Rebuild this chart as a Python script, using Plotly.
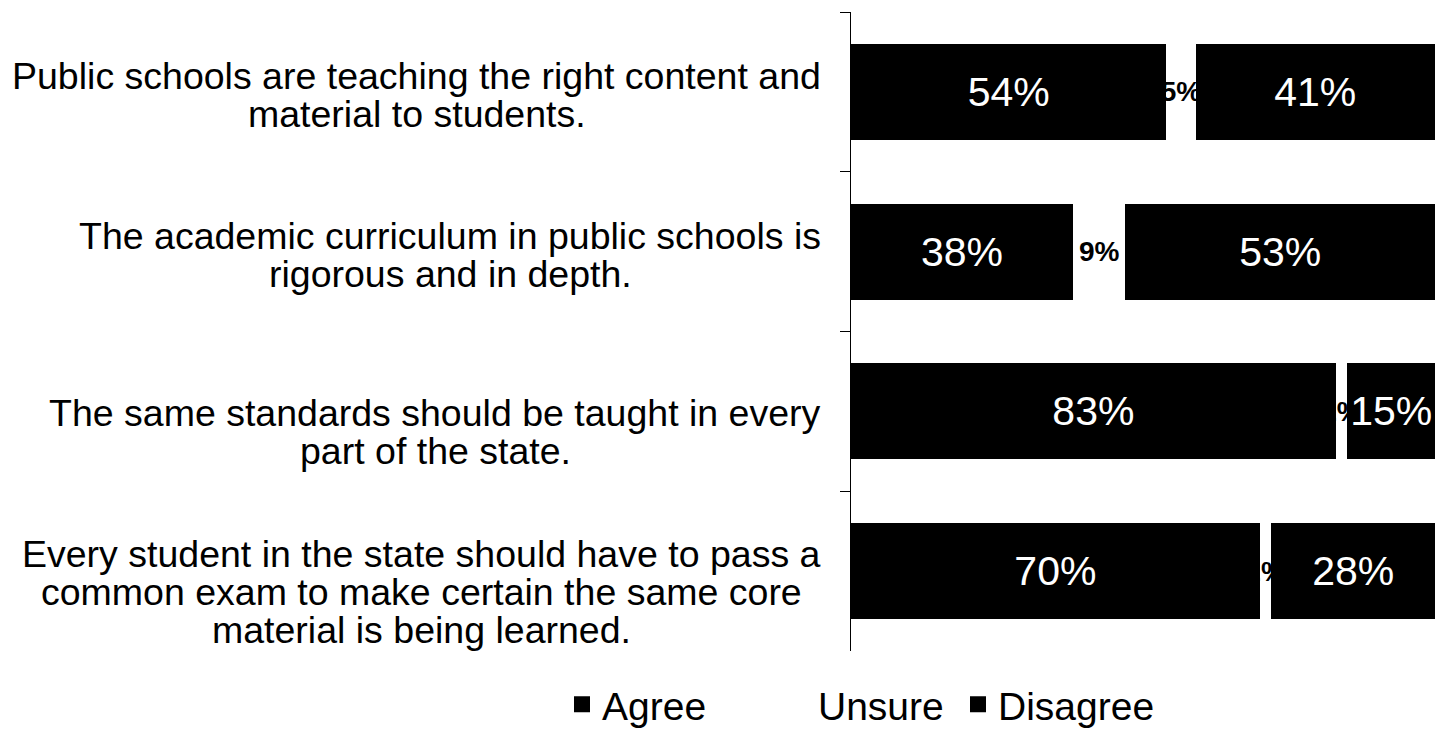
import plotly.graph_objects as go

# Survey statements (line breaks as set in the chart) and response shares (%)
statements = [
    "Public schools are teaching the right content and\nmaterial to students.",
    "The academic curriculum in public schools is\nrigorous and in depth.",
    "The same standards should be taught in every\npart of the state.",
    "Every student in the state should have to pass a\ncommon exam to make certain the same core\nmaterial is being learned.",
]
agree = [54, 38, 83, 70]
unsure = [5, 9, 2, 2]
disagree = [41, 53, 15, 28]
series_names = ["Agree", "Unsure", "Disagree"]

FONT = "Liberation Sans, Arial, Helvetica, sans-serif"
LABEL_SIZE = 37.5        # statement text size (px)
LABEL_LINE = 38          # statement line pitch (px)
LABEL_GAP = 30           # distance from the axis to the right edge of a label block (px)
LABEL_DROP = [3, 3, 21, 21]  # downward nudge of each label block (px)

# Arial / Liberation Sans advance widths (per 1000 em) used to centre label lines
ADV = {
    " ": 278, ".": 278, "a": 556, "b": 556, "c": 500, "d": 556, "e": 556, "f": 278,
    "g": 556, "h": 556, "i": 222, "j": 222, "k": 500, "l": 222, "m": 833, "n": 556,
    "o": 556, "p": 556, "q": 556, "r": 333, "s": 500, "t": 278, "u": 556, "v": 500,
    "w": 722, "x": 500, "y": 500, "z": 500, "P": 667, "T": 611, "E": 667,
}


def text_width(s, size):
    return sum(ADV.get(ch, 556) for ch in s) * size / 1000.0


cats = statements
fig = go.Figure()

# Agree segment
fig.add_trace(go.Bar(
    y=cats, x=agree, orientation="h", name=series_names[0],
    marker=dict(color="black", line=dict(width=0)),
    text=[f"{v}%" for v in agree], textposition="inside", insidetextanchor="middle",
    constraintext="none", textangle=0,
    textfont=dict(color="white", size=41, family=FONT),
    showlegend=False, hoverinfo="skip",
))
# Unsure segment (white); its bold black value sits in the gap and is hidden by the
# neighbouring black bars wherever it spills over
fig.add_trace(go.Bar(
    y=cats, x=unsure, orientation="h", name=series_names[1],
    marker=dict(color="white", line=dict(width=0)),
    text=[f"{v}%" for v in unsure], textposition="inside", insidetextanchor="middle",
    constraintext="none", textangle=0,
    textfont=dict(color="black", size=28, family=FONT, weight="bold"),
    showlegend=False, hoverinfo="skip",
))
# Disagree segment
fig.add_trace(go.Bar(
    y=cats, x=disagree, orientation="h", name=series_names[2],
    marker=dict(color="black", line=dict(width=0)),
    text=[f"{v}%" for v in disagree], textposition="inside", insidetextanchor="middle",
    constraintext="none", textangle=0,
    textfont=dict(color="white", size=41, family=FONT),
    showlegend=False, hoverinfo="skip",
))

# Legend entries, one legend per entry so each can be placed on its own
legend_colors = ["black", "white", "black"]
legend_ids = ["legend", "legend2", "legend3"]
for name, col, lid in zip(series_names, legend_colors, legend_ids):
    fig.add_trace(go.Scatter(
        x=[None], y=[None], mode="markers", name=name, legend=lid,
        marker=dict(symbol="square", size=20, color=col, line=dict(width=0)),
        showlegend=True, hoverinfo="skip",
    ))

annotations = []
# Statement labels: centred lines inside a block that is right-aligned to the axis
for c, s, drop in zip(cats, statements, LABEL_DROP):
    lines = s.split("\n")
    block_w = max(text_width(ln, LABEL_SIZE) for ln in lines)
    mid = (len(lines) - 1) / 2.0
    for i, ln in enumerate(lines):
        annotations.append(dict(
            x=0, y=c, xref="x", yref="y", text=ln, showarrow=False,
            xanchor="center", yanchor="middle",
            xshift=-(LABEL_GAP + block_w / 2.0),
            yshift=(mid - i) * LABEL_LINE - drop,
            font=dict(color="black", size=LABEL_SIZE, family=FONT),
        ))

legend_common = dict(
    orientation="h", yanchor="bottom", xanchor="left", y=-0.132,
    font=dict(size=39, family=FONT, color="black"),
    bgcolor="rgba(0,0,0,0)", borderwidth=0, itemclick=False, itemdoubleclick=False,
)

fig.update_layout(
    width=1437, height=737,
    margin=dict(l=851, r=2, t=12, b=85),
    paper_bgcolor="white", plot_bgcolor="white",
    barmode="stack", bargap=0.4,
    font=dict(family=FONT, color="black"),
    xaxis=dict(range=[0, 100], visible=False, fixedrange=True),
    yaxis=dict(
        categoryorder="array", categoryarray=cats, autorange="reversed",
        showline=True, linecolor="black", linewidth=1,
        ticks="outside", ticklen=10, tickwidth=1, tickcolor="black",
        tickson="boundaries", showticklabels=False, showgrid=False, zeroline=False,
        fixedrange=True,
    ),
    legend=dict(x=(562 - 851) / 584, **legend_common),
    legend2=dict(x=(778 - 851) / 584, **legend_common),
    legend3=dict(x=(958 - 851) / 584, **legend_common),
    annotations=annotations,
    showlegend=True,
)

fig.write_html("out.html")
